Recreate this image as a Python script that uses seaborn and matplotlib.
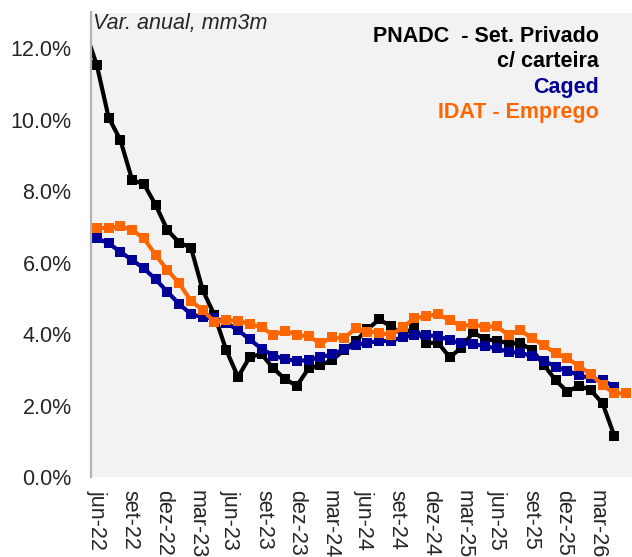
import numpy as np
import pandas as pd
import seaborn as sns
import matplotlib.pyplot as plt

# rótulos do eixo x (de 3 em 3 meses)
tick_labels = ['jun-22', 'set-22', 'dez-22', 'mar-23', 'jun-23', 'set-23', 'dez-23', 'mar-24',
               'jun-24', 'set-24', 'dez-24', 'mar-25', 'jun-25', 'set-25', 'dez-25', 'mar-26']

# PNADC - Set. Privado c/ carteira: mai-22 a fev-26 (mai-22 fica fora da área)
pnadc = [12.5, 11.52, 10.06, 9.43, 8.31, 8.20, 7.61, 6.91, 6.56, 6.42, 5.23, 4.53, 3.55, 2.80,
         3.36, 3.44, 3.04, 2.74, 2.55, 3.04, 3.13, 3.27, 3.55, 3.80, 4.13, 4.41, 4.22, 3.98,
         4.19, 3.75, 3.76, 3.35, 3.62, 4.05, 3.85, 3.82, 3.74, 3.74, 3.56, 3.14, 2.71, 2.39,
         2.55, 2.43, 2.06, 1.15]

# Caged: jun-22 a fev-26
caged = [6.68, 6.54, 6.30, 6.07, 5.84, 5.53, 5.18, 4.84, 4.56, 4.47, 4.44, 4.32, 4.11, 3.85,
         3.59, 3.40, 3.30, 3.25, 3.27, 3.36, 3.43, 3.57, 3.69, 3.76, 3.80, 3.81, 3.91, 3.97,
         3.97, 3.94, 3.83, 3.74, 3.72, 3.66, 3.60, 3.50, 3.48, 3.38, 3.25, 3.09, 2.97, 2.85,
         2.76, 2.71, 2.53]

# IDAT - Emprego: jun-22 a mar-26
idat = [6.98, 6.96, 7.02, 6.91, 6.68, 6.21, 5.79, 5.42, 4.93, 4.67, 4.34, 4.39, 4.37, 4.28,
        4.19, 3.97, 4.10, 3.97, 3.94, 3.74, 3.91, 3.88, 4.16, 4.07, 4.04, 3.97, 4.19, 4.44,
        4.50, 4.56, 4.39, 4.22, 4.27, 4.20, 4.22, 3.97, 4.11, 3.88, 3.69, 3.46, 3.32, 3.10,
        2.88, 2.57, 2.34, 2.34]

# índice do mês: jun-22 = 0
x_pnadc = np.arange(-1, len(pnadc) - 1)
x_caged = np.arange(len(caged))
x_idat = np.arange(len(idat))

sns.set_style('white')
plt.rcParams['font.family'] = ['Liberation Sans', 'DejaVu Sans']

W, H = 632, 557
fig = plt.figure(figsize=(W / 100, H / 100), dpi=100)
ax = fig.add_axes([91 / W, 1 - 477 / H, 541 / W, (477 - 12.5) / H])
ax.set_facecolor('#f2f2f2')

estilo = dict(marker='s', markersize=7, markeredgewidth=0, linewidth=3, ax=ax)
sns.lineplot(x=x_pnadc, y=pnadc, color='black', markeredgecolor='black', **estilo)
sns.lineplot(x=x_caged, y=caged, color='#000099', markeredgecolor='#000099', **estilo)
sns.lineplot(x=x_idat, y=idat, color='#ff6600', markeredgecolor='#ff6600', **estilo)

ax.set_xlim(-0.5, 45.5)
ax.set_ylim(0, 13)
ax.set_yticks(np.arange(0, 13, 2))
ax.set_yticklabels([f'{v:.1f}%' for v in np.arange(0, 13, 2)])
ax.tick_params(axis='y', length=0, pad=14, labelsize=15.5)
ax.set_xticks([])
ax.set_xlabel('')
ax.set_ylabel('')
for s in ['top', 'right', 'bottom']:
    ax.spines[s].set_visible(False)
ax.spines['left'].set_color('#b3b3b3')
ax.spines['left'].set_linewidth(1.6)

# eixo de categorias dos rótulos (como eixo secundário do Excel)
ax2 = ax.twiny()
ax2.set_xlim(-0.5, 48.1)
ax2.xaxis.set_ticks_position('bottom')
ax2.set_xticks(np.arange(0, 46, 3))
ax2.set_xticklabels(tick_labels, rotation=270)
ax2.tick_params(axis='x', length=0, pad=9, labelsize=15.5)
for s in ax2.spines.values():
    s.set_visible(False)

fig.text(93 / W, 1 - 28.5 / H, 'Var. anual, mm3m', fontsize=15.5, style='italic',
         ha='left', va='baseline')
legenda = [('PNADC  - Set. Privado', 'black', 41.7),
           ('c/ carteira', 'black', 66.7),
           ('Caged', '#000099', 92.5),
           ('IDAT - Emprego', '#ff6600', 118.3)]
for txt, cor, yb in legenda:
    fig.text(599 / W, 1 - yb / H, txt, fontsize=15.5, fontweight='bold', color=cor,
             ha='right', va='baseline')

fig.savefig('out.png', dpi=100)
